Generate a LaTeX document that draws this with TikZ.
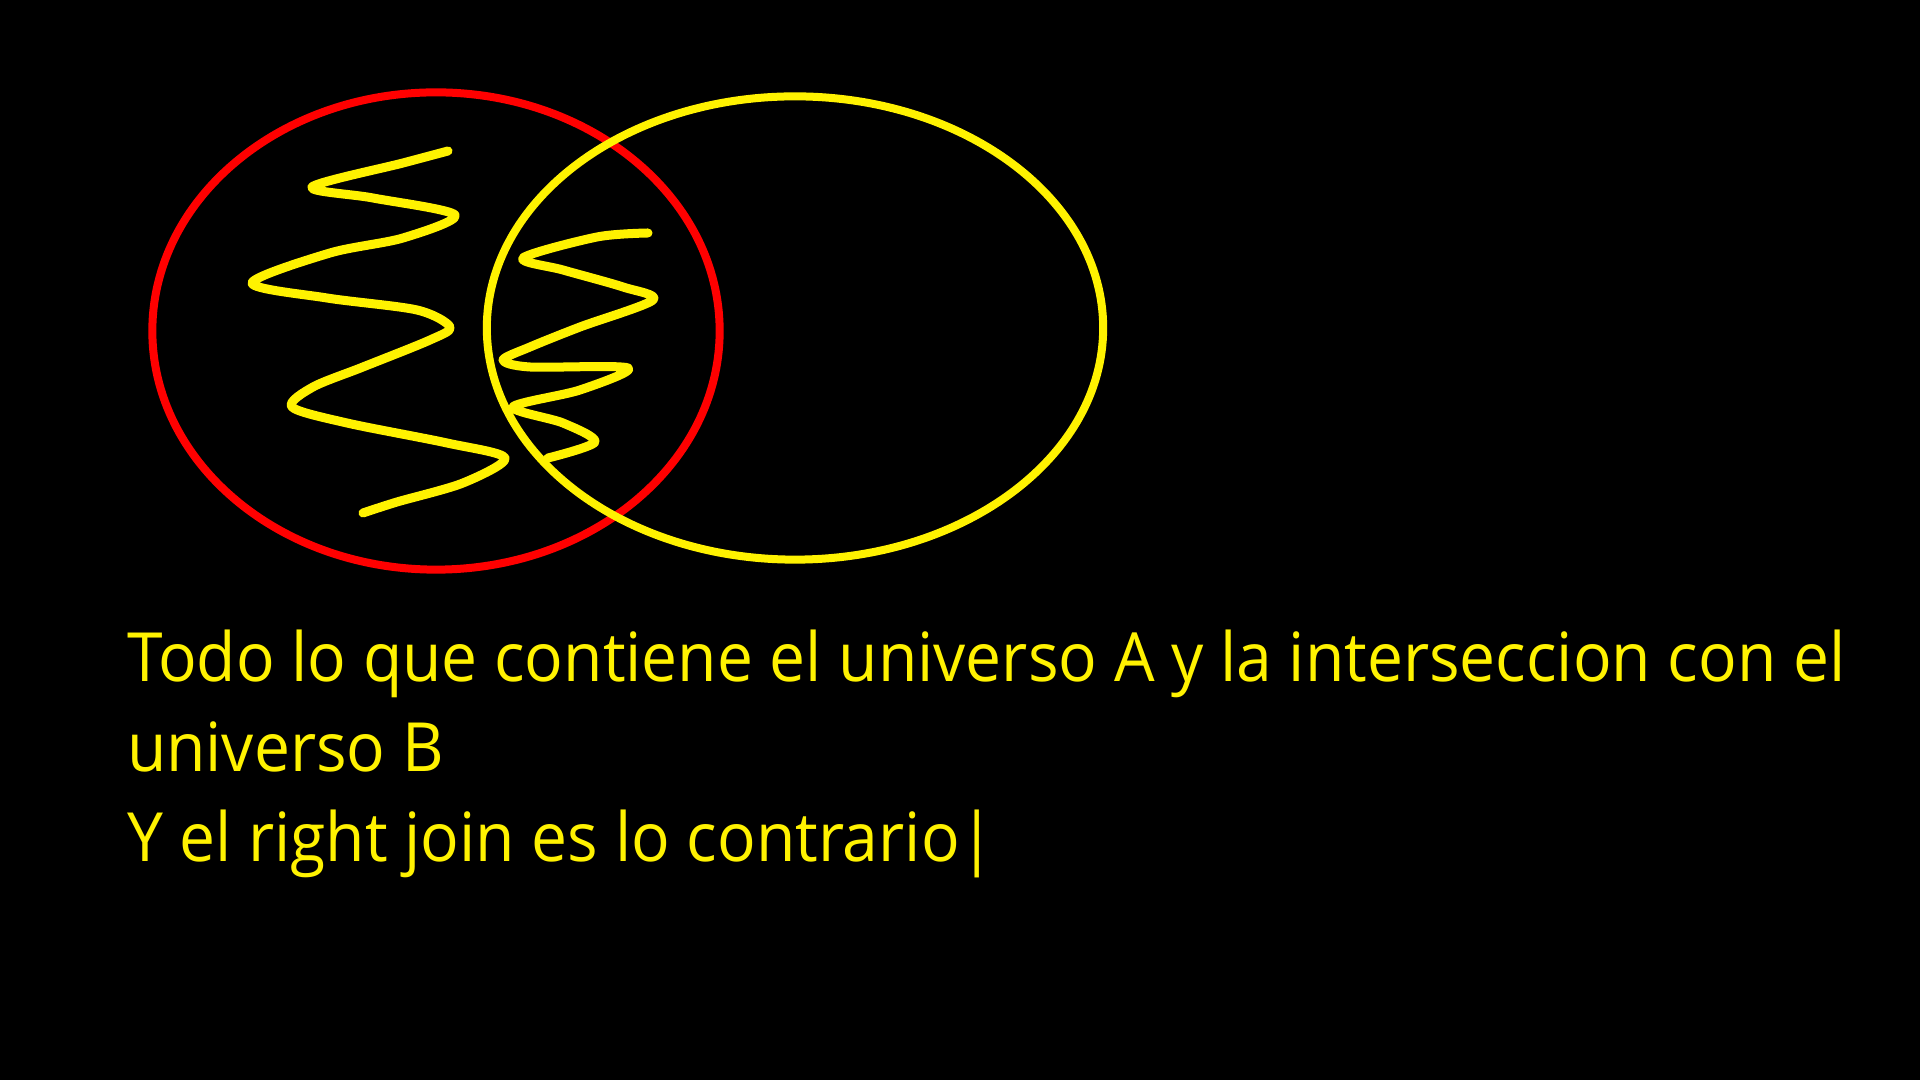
\documentclass[tikz,border=0pt]{standalone}
\usepackage{fontspec}
\usepackage{xcolor}
\usepackage{tikz}
\usetikzlibrary{shapes.geometric}
\setmainfont{Open Sans}
\newcommand{\narrowtext}[1]{\scalebox{0.945}[1]{#1}}

\begin{document}
\begin{tikzpicture}[x={(0.01cm,0cm)},y={(0cm,-0.01cm)},
  every node/.style={outer sep=0pt, inner sep=0pt},
  venn/.style={ellipse, draw, line width=0.08cm},
  scribble/.style={draw=yellow, line width=0.09cm, line cap=round, line join=round},
  caption/.style={anchor=base west, text=yellow, font=\fontsize{19.3}{23}\selectfont}]
\useasboundingbox (0,0) rectangle (1920,1080);
\fill[black] (0,0) rectangle (1920,1080);
\node[venn, draw=red, minimum width=5.67cm, minimum height=4.77cm] (univA) at (436,331) {};
\node[venn, draw=yellow, minimum width=6.16cm, minimum height=4.63cm] (univB) at (795,328) {};
\draw[scribble] plot[smooth, tension=0.5] coordinates {(448,151) (403,163) (312,187) (373,198) (455,215) (403,238) (330,253) (252,283) (327,298) (417,310) (450,327) (430,340) (363,367) (313,387) (292,407) (347,423) (447,443) (505,458) (463,483) (397,502) (363,513)};
\draw[scribble] plot[smooth, tension=0.5] coordinates {(648,233) (597,237) (523,258) (563,270) (623,287) (653,300) (580,327) (530,347) (503,360) (530,367) (628,368) (580,390) (513,407) (563,423) (595,442) (548,458)};
\node[caption] (line1) at (127,682) {\narrowtext{Todo lo que contiene el universo A y la interseccion con el}};
\node[caption] (line2) at (127,772) {\narrowtext{universo B}};
\node[caption] (line3) at (127,862) {\narrowtext{Y el right join es lo contrario|}};
\end{tikzpicture}
\end{document}
